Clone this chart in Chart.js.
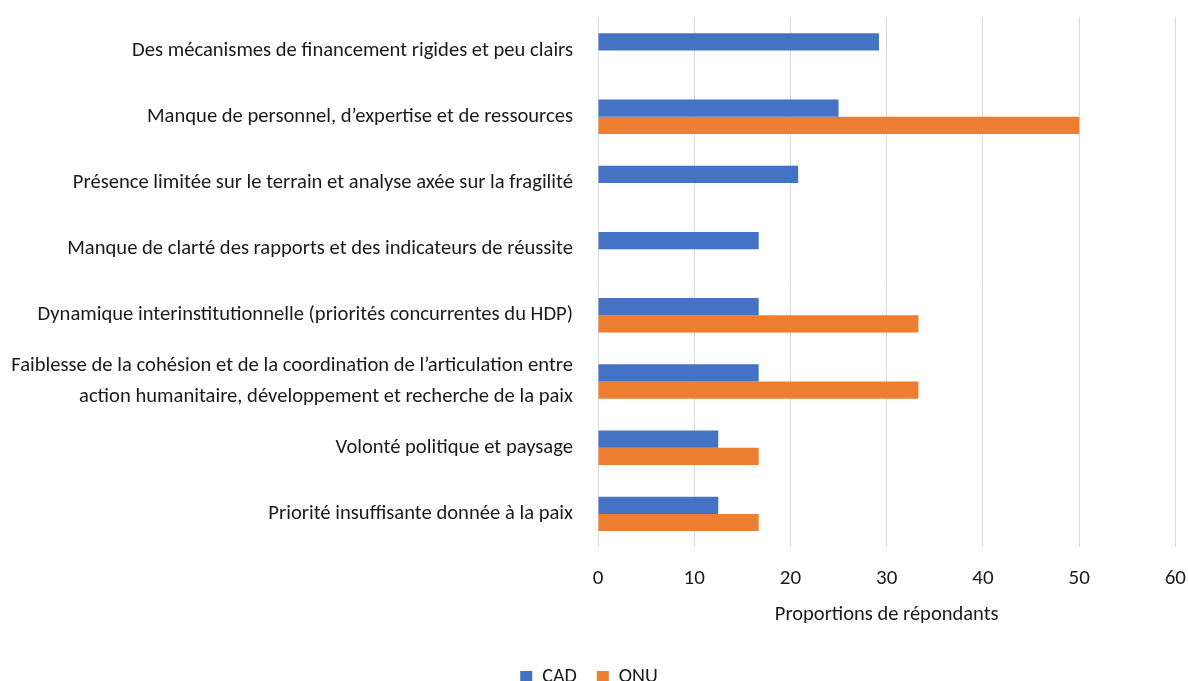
<!DOCTYPE html>
<html>
<head>
<meta charset="utf-8">
<script src="https://cdn.jsdelivr.net/npm/chart.js@4"></script>
<style>
  body { margin: 0; background: #fff; }
  #chart { display: block; }
</style>
</head>
<body>
<canvas id="chart" width="1188" height="681"></canvas>
<script>
// Categories (top to bottom) and values
const categories = [
    'Des mécanismes de financement rigides et peu clairs',
    'Manque de personnel, d’expertise et de ressources',
    'Présence limitée sur le terrain et analyse axée sur la fragilité',
    'Manque de clarté des rapports et des indicateurs de réussite',
    'Dynamique interinstitutionnelle (priorités concurrentes du HDP)',
    ['Faiblesse de la cohésion et de la coordination de l’articulation entre',
     'action humanitaire, développement et recherche de la paix'],
    'Volonté politique et paysage',
    'Priorité insuffisante donnée à la paix'
];
const cadValues = [29.2, 25.0, 20.8, 16.7, 16.7, 16.7, 12.5, 12.5];
const onuValues = [null, 50.0, null, null, 33.3, 33.3, 16.7, 16.7];
const xTicks = [0, 10, 20, 30, 40, 50, 60];

const FONT = 'Carlito, Lato, "Liberation Sans", sans-serif';
const textColor = '#1a1a1a';
const clear = 'rgba(0,0,0,0)';

const ctx = document.getElementById('chart');

new Chart(ctx, {
    type: 'bar',
    data: {
        labels: categories,
        datasets: [{
            label: 'CAD',
            data: cadValues,
            backgroundColor: '#4472c4',
            barPercentage: 1,
            categoryPercentage: 0.52
        }, {
            label: 'ONU',
            data: onuValues,
            backgroundColor: '#ed7d31',
            barPercentage: 1,
            categoryPercentage: 0.52
        }]
    },
    options: {
        indexAxis: 'y',
        responsive: false,
        animation: false,
        layout: {
            padding: { top: 16, right: 10, bottom: -16, left: 0 }
        },
        scales: {
            x: {
                min: xTicks[0],
                max: xTicks[xTicks.length - 1],
                afterBuildTicks: (scale) => {
                    scale.ticks = xTicks.map(v => ({ value: v }));
                },
                afterFit: (scale) => {
                    scale.height = 100;
                },
                grid: {
                    color: '#d9d9d9',
                    lineWidth: 1,
                    drawTicks: true,
                    tickLength: 17,
                    tickColor: clear
                },
                border: { display: false },
                ticks: {
                    color: textColor,
                    padding: 2,
                    font: { family: FONT, size: 21 }
                },
                title: {
                    display: true,
                    text: 'Proportions de répondants',
                    color: textColor,
                    padding: { top: 0, bottom: 20 },
                    font: { family: FONT, size: 20.5 }
                }
            },
            y: {
                afterFit: (scale) => {
                    scale.width = 598;
                },
                grid: {
                    color: clear,
                    drawTicks: true,
                    tickLength: 23,
                    tickColor: clear
                },
                border: { display: false },
                ticks: {
                    color: textColor,
                    padding: 2,
                    font: { family: FONT, size: 20.6, lineHeight: 1.5 }
                }
            }
        },
        plugins: {
            legend: {
                position: 'bottom',
                labels: {
                    color: textColor,
                    boxWidth: 12,
                    boxHeight: 12,
                    padding: 20,
                    font: { family: FONT, size: 20 }
                }
            },
            tooltip: { enabled: false }
        }
    }
});
</script>
</body>
</html>
